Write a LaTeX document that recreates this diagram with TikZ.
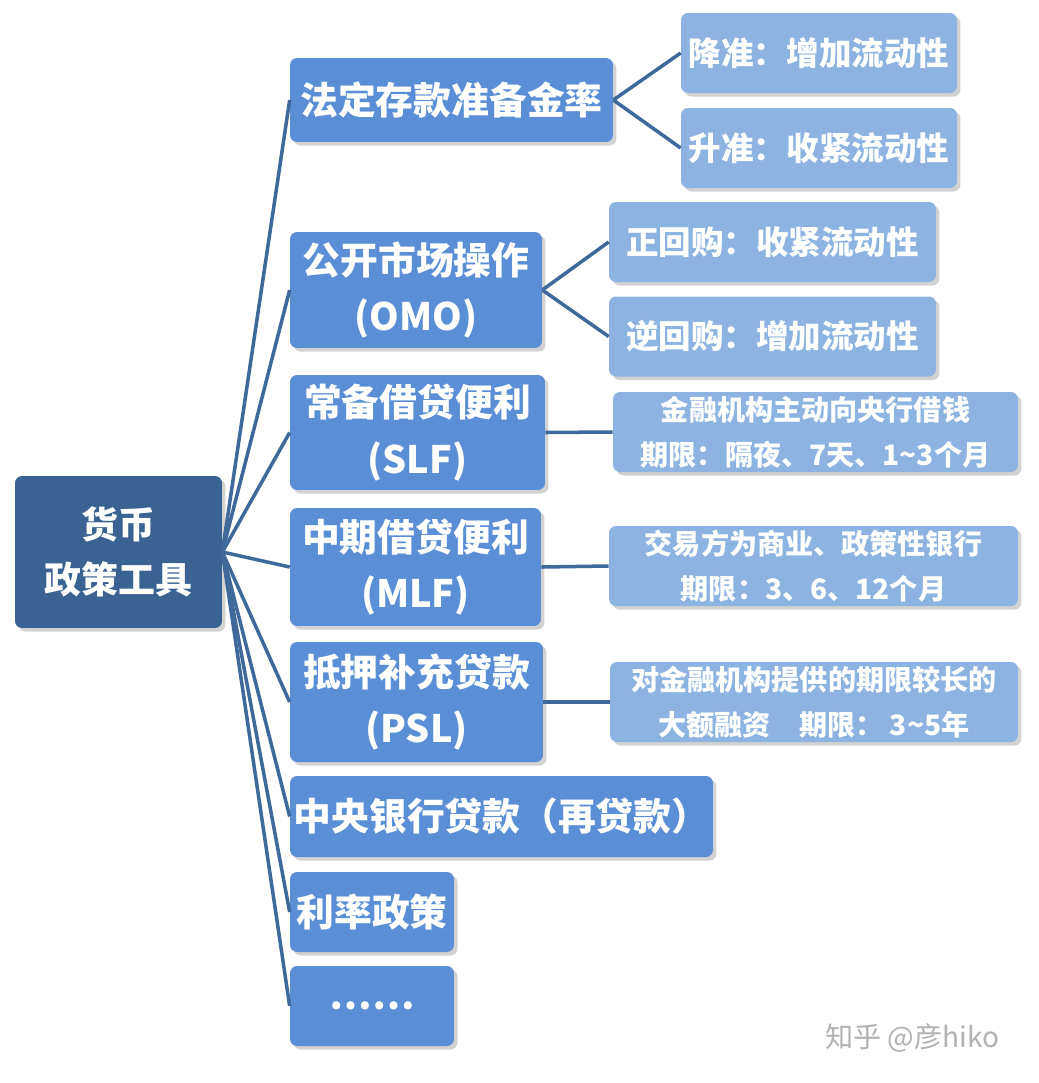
\documentclass[tikz,border=0pt]{standalone}
\usepackage{fontspec}
\setmainfont{Noto Sans CJK SC}
\usetikzlibrary{shadows}
\definecolor{rootblue}{HTML}{3A6293}
\definecolor{midblue}{HTML}{5A8FD6}
\definecolor{lightblue}{HTML}{8DB3E2}
\definecolor{linkblue}{HTML}{3F689B}
\begin{document}
\begin{tikzpicture}[x=0.02cm,y=-0.02cm]
        \tikzset{box/.style = {rounded corners=4pt,text=white,font=\bfseries,align=center,inner sep=0pt,
          drop shadow={shadow xshift=2pt,shadow yshift=-2pt,opacity=0.35}}}
        \tikzset{tool/.style = {box,fill=midblue,font=\bfseries\fontsize{21.5}{32}\selectfont}}
        \tikzset{effect/.style = {box,fill=lightblue,font=\bfseries\fontsize{18.5}{22}\selectfont}}
        \tikzset{note/.style = {box,fill=lightblue,font=\bfseries\fontsize{16}{25.5}\selectfont}}
        \tikzset{link/.style = {-,draw=linkblue,line width=2pt}}
        \useasboundingbox[fill=white] (0,0) rectangle (1039,1083);

        \node[box,fill=rootblue,font=\bfseries\fontsize{21}{31}\selectfont,minimum width=4.14cm,minimum height=3.04cm] (root) at (118.5,552) {货币\\政策工具};

        \node[tool,minimum width=6.46cm,minimum height=1.68cm] (rrr) at (451.5,100) {法定存款准备金率};
        \node[tool,minimum width=5.04cm,minimum height=2.32cm] (omo) at (416,290) {公开市场操作\\(OMO)};
        \node[tool,minimum width=5.1cm,minimum height=2.3cm] (slf) at (417.5,432.5) {常备借贷便利\\(SLF)};
        \node[tool,minimum width=5.02cm,minimum height=2.36cm] (mlf) at (415.5,567) {中期借贷便利\\(MLF)};
        \node[tool,minimum width=5.06cm,minimum height=2.4cm] (psl) at (416.5,702) {抵押补充贷款\\(PSL)};
        \node[tool,minimum width=8.46cm,minimum height=1.62cm] (loan) at (501.5,816.5) {中央银行贷款（再贷款）};
        \node[tool,minimum width=3.28cm,minimum height=1.6cm] (rate) at (372,912) {利率政策};
        \node[tool,minimum width=3.28cm,minimum height=1.6cm] (more) at (372,1006) {……};

        \node[effect,minimum width=5.52cm,minimum height=1.6cm] (cut) at (819,53) {降准：增加流动性};
        \node[effect,minimum width=5.52cm,minimum height=1.6cm] (hike) at (819,148) {升准：收紧流动性};
        \node[effect,minimum width=6.54cm,minimum height=1.6cm] (repo) at (772.5,242) {正回购：收紧流动性};
        \node[effect,minimum width=6.54cm,minimum height=1.6cm] (rrepo) at (772.5,336.5) {逆回购：增加流动性};
        \node[note,minimum width=8.1cm,minimum height=1.6cm] (slfnote) at (815.5,432) {金融机构主动向央行借钱\\期限：隔夜、7天、1\textasciitilde3个月};
        \node[note,minimum width=8.18cm,minimum height=1.6cm] (mlfnote) at (813.5,566) {交易方为商业、政策性银行\\期限：3、6、12个月};
        \node[note,minimum width=8.16cm,minimum height=1.6cm] (pslnote) at (814,702) {对金融机构提供的期限较长的\\大额融资\quad 期限： 3\textasciitilde5年};

        \foreach \t in {rrr,omo,slf,mlf,psl,loan,rate,more}
          \draw[link] (root.east) to (\t.west);
        \draw[link] (rrr.east) to (cut.west);
        \draw[link] (rrr.east) to (hike.west);
        \draw[link] (omo.east) to (repo.west);
        \draw[link] (omo.east) to (rrepo.west);
        \draw[link] (slf.east) to (slfnote.west);
        \draw[link] (mlf.east) to (mlfnote.west);
        \draw[link] (psl.east) to (pslnote.west);

        \node[text=gray!60,font=\fontsize{16}{18}\selectfont] (mark) at (912,1038) {知乎 @彦hiko};
      \end{tikzpicture}
\end{document}
